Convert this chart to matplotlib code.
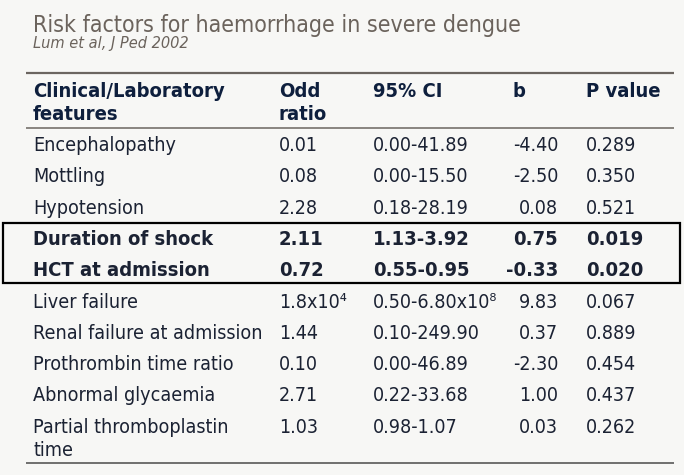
import os
import matplotlib
matplotlib.use("Agg")
import matplotlib.pyplot as plt
from matplotlib import font_manager as fm
from matplotlib.patches import Rectangle

# ---- data ----
title = "Risk factors for haemorrhage in severe dengue"
subtitle = "Lum et al, J Ped 2002"
headers = ["Clinical/Laboratory\nfeatures", "Odd\nratio", "95% CI", "b", "P value"]
features = ["Encephalopathy", "Mottling", "Hypotension", "Duration of shock",
            "HCT at admission", "Liver failure", "Renal failure at admission",
            "Prothrombin time ratio", "Abnormal glycaemia",
            "Partial thromboplastin\ntime"]
odds_ratio = ["0.01", "0.08", "2.28", "2.11", "0.72", "1.8x10\u2074", "1.44",
              "0.10", "2.71", "1.03"]
ci95 = ["0.00-41.89", "0.00-15.50", "0.18-28.19", "1.13-3.92", "0.55-0.95",
        "0.50-6.80x10\u2078", "0.10-249.90", "0.00-46.89", "0.22-33.68",
        "0.98-1.07"]
b_vals = ["-4.40", "-2.50", "0.08", "0.75", "-0.33", "9.83", "0.37", "-2.30",
          "1.00", "0.03"]
p_vals = ["0.289", "0.350", "0.521", "0.019", "0.020", "0.067", "0.889",
          "0.454", "0.437", "0.262"]
bold_rows = [3, 4]

# ---- fonts ----
def pick(weight="normal", style="normal"):
    want = {("normal", "normal"): "DejaVuSansCondensed.ttf",
            ("bold", "normal"): "DejaVuSansCondensed-Bold.ttf",
            ("normal", "italic"): "DejaVuSansCondensed-Oblique.ttf"}[(weight, style)]
    for f in fm.findSystemFonts():
        if os.path.basename(f) == want:
            return dict(fontproperties=fm.FontProperties(fname=f)), 1.0
    return dict(fontproperties=fm.FontProperties(family="DejaVu Sans", weight=weight,
                                                 style=style)), 0.9

reg, sr = pick()
bld, sb = pick("bold")
ita, si = pick("normal", "italic")

W, H = 684, 475
fig = plt.figure(figsize=(W / 100, H / 100), dpi=100)
bg = "#f7f7f5"
fig.patch.set_facecolor(bg)
ax = fig.add_axes([0, 0, 1, 1])
ax.set_xlim(0, W)
ax.set_ylim(H, 0)
ax.axis("off")
ax.set_facecolor(bg)

def txt(x, y, s, props, scale, size, color, ha="left"):
    fp = props["fontproperties"].copy()
    fp.set_size(size * scale)
    ax.text(x, y, s, fontproperties=fp, color=color, ha=ha, va="baseline")

title_col = "#6b635c"
head_col = "#0e1f3d"
body_col = "#1b2233"

txt(33, 32, title, reg, sr, 16.6, title_col)
txt(33, 48, subtitle, ita, si, 11.7, title_col)

# rules
rule_col = "#6b6560"
ax.plot([26, 674], [73, 73], color=rule_col, lw=1.6, solid_capstyle="butt")
ax.plot([26, 674], [128, 128], color=rule_col, lw=1.1, solid_capstyle="butt")
ax.plot([26, 674], [463, 463], color="#4a4a4a", lw=1.1, solid_capstyle="butt")

col_x = [33, 279, 373, 558, 586]
col_ha = ["left", "left", "left", "right", "left"]
head_x = [33, 279, 373, 513, 586]

# headers
for hx, h in zip(head_x, headers):
    for k, line in enumerate(h.split("\n")):
        txt(hx, 97 + 23 * k, line, bld, sb, 14.5, head_col)

# rows
y0, dy, line_dy = 151, 31.3, 23
cols = [features, odds_ratio, ci95, b_vals, p_vals]
for i in range(len(features)):
    y = y0 + dy * i
    if i in bold_rows:
        props, sc, size = bld, sb, 14.5
    else:
        props, sc, size = reg, sr, 14.1
    for c, (cx, ha) in enumerate(zip(col_x, col_ha)):
        for k, line in enumerate(cols[c][i].split("\n")):
            txt(cx, y + line_dy * k, line, props, sc, size, body_col, ha=ha)

# highlight box around bold rows
top = y0 + dy * bold_rows[0] - 22
bot = y0 + dy * bold_rows[-1] + 7
ax.add_patch(Rectangle((2.5, top), 677, bot - top, fill=False, ec="black", lw=1.6))

fig.savefig("out.png", dpi=100, facecolor=bg)
